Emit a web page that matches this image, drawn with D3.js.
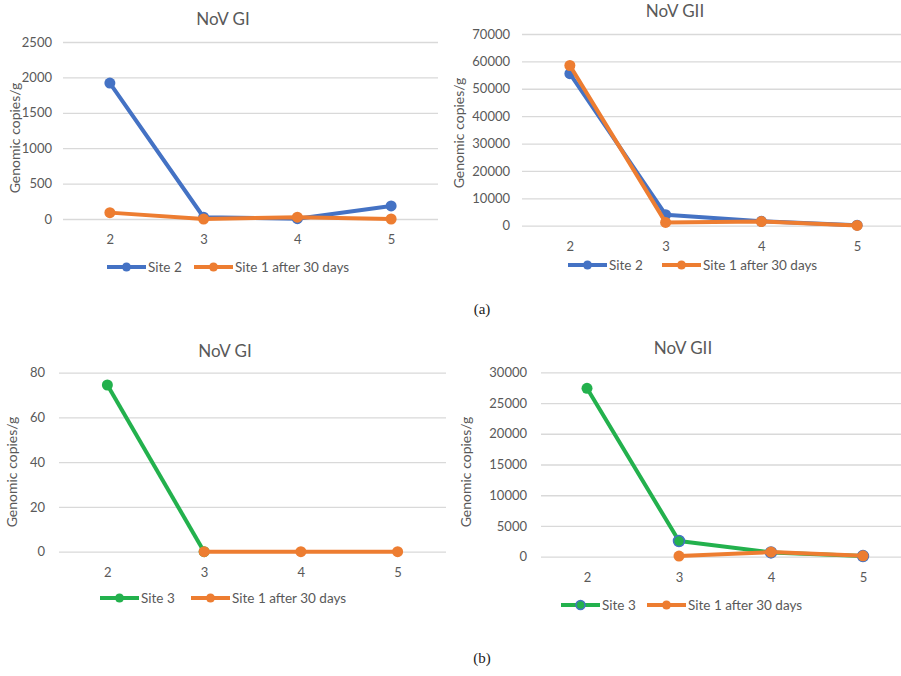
<!DOCTYPE html>
<html>
<head>
<meta charset="utf-8">
<script src="https://cdn.jsdelivr.net/npm/d3@7"></script>
<style>
  body { margin: 0; background: #fff; }
  svg { display: block; }
</style>
</head>
<body>
<div id="chart"></div>
<script>
// sampling days (x categories)
const days = ["2", "3", "4", "5"];

// (a) NoV GI
const giSite2 = [1920, 25, 5, 185];
const giSite1a = [90, 0, 25, 0];
// (a) NoV GII
const giiSite2 = [55500, 4000, 1600, 200];
const giiSite1a = [58500, 1200, 1500, 100];
// (b) NoV GI
const giSite3 = [74.5, 0, null, null];
const giSite1b = [null, 0, 0, 0];
// (b) NoV GII
const giiSite3 = [27400, 2550, 700, 100];
const giiSite1b = [null, 100, 750, 150];

// y tick labels
const giTicksA = [0, 500, 1000, 1500, 2000, 2500];
const giiTicksA = [0, 10000, 20000, 30000, 40000, 50000, 60000, 70000];
const giTicksB = [0, 20, 40, 60, 80];
const giiTicksB = [0, 5000, 10000, 15000, 20000, 25000, 30000];

const BLUE = "#4472C4";
const ORANGE = "#ED7D31";
const GREEN = "#23B14D";
const TEXT = "#595959";
const GRID = "#d9d9d9";
const FONT = "Lato, 'Open Sans', sans-serif";

const svg = d3.select("#chart")
    .append("svg")
    .attr("width", 901)
    .attr("height", 676);

// one Excel-like line panel
function drawPanel(p) {
    const g = svg.append("g");

    const x = d3.scalePoint()
        .domain(days)
        .range([p.x0, p.x1])
        .padding(0.5);

    const y = d3.scaleLinear()
        .domain([0, d3.max(p.ticks)])
        .range([p.y0, p.yTop]);

    // gridlines + y tick labels
    const leftAxis = d3.axisLeft(y)
        .tickValues(p.ticks)
        .tickFormat(d3.format("d"))
        .tickSizeInner(-(p.gridRight - p.x0))
        .tickSizeOuter(0)
        .tickPadding(p.x0 - p.tickRight);

    const yAxis = g.append("g")
        .attr("transform", `translate(${p.x0},0)`)
        .call(leftAxis);
    yAxis.select(".domain").remove();
    yAxis.selectAll("line").attr("stroke", GRID).attr("stroke-width", 1.3);
    yAxis.selectAll("text")
        .attr("fill", TEXT)
        .style("font-family", FONT)
        .style("font-size", "13px");

    // x tick labels
    const bottomAxis = d3.axisBottom(x)
        .tickSize(0)
        .tickPadding(p.xTickY - p.y0 - 4.5);
    const xAxis = g.append("g")
        .attr("transform", `translate(0,${p.y0})`)
        .call(bottomAxis);
    xAxis.select(".domain").remove();
    xAxis.selectAll("text")
        .attr("fill", TEXT)
        .style("font-family", FONT)
        .style("font-size", "13px");

    // title
    g.append("text")
        .attr("x", p.titleX)
        .attr("y", p.titleY)
        .attr("text-anchor", "middle")
        .attr("fill", TEXT)
        .style("font-family", FONT)
        .style("font-size", "17px")
        .text(p.title);

    // y axis label
    g.append("text")
        .attr("transform", `translate(${p.ylabX},${p.ylabY}) rotate(-90)`)
        .attr("text-anchor", "middle")
        .attr("dy", "0.35em")
        .attr("fill", TEXT)
        .style("font-family", FONT)
        .style("font-size", "14px")
        .text("Genomic copies/g");

    const line = d3.line()
        .defined(d => d.v != null)
        .x(d => x(d.day))
        .y(d => y(d.v));

    // series: first one drawn first, second on top
    p.series.forEach(s => {
        const pts = days.map((day, i) => ({ day: day, v: s.values[i], ring: s.ring ? s.ring[i] : null }));

        g.append("path")
            .datum(pts)
            .attr("fill", "none")
            .attr("stroke", s.color)
            .attr("stroke-width", 4)
            .attr("stroke-linejoin", "round")
            .attr("d", line);

        g.selectAll(null)
            .data(pts.filter(d => d.v != null))
            .enter()
            .append("circle")
            .attr("cx", d => x(d.day))
            .attr("cy", d => y(d.v))
            .attr("r", 5.5)
            .attr("fill", s.color)
            .attr("stroke", d => d.ring || "none")
            .attr("stroke-width", 1.5);
    });

    // legend
    p.series.forEach((s, i) => {
        const lx = p.legendX[i];
        const lg = g.append("g");
        lg.append("line")
            .attr("x1", lx)
            .attr("x2", lx + 39)
            .attr("y1", p.legendY)
            .attr("y2", p.legendY)
            .attr("stroke", s.color)
            .attr("stroke-width", 4);
        lg.append("circle")
            .attr("cx", lx + 19.5)
            .attr("cy", p.legendY)
            .attr("r", 4.5)
            .attr("fill", s.color)
            .attr("stroke", s.legendRing || "none")
            .attr("stroke-width", 1.5);
        lg.append("text")
            .attr("x", lx + 41)
            .attr("y", p.legendY)
            .attr("dy", "0.35em")
            .attr("fill", TEXT)
            .style("font-family", FONT)
            .style("font-size", "13.5px")
            .text(s.name);
    });
}

drawPanel({
    title: "NoV GI", titleX: 223, titleY: 25,
    x0: 63, x1: 438, gridRight: 438, yTop: 42, y0: 219,
    ticks: giTicksA, tickRight: 52, xTickY: 239,
    ylabX: 15, ylabY: 138,
    legendY: 267, legendX: [107, 194],
    series: [
        { name: "Site 2", values: giSite2, color: BLUE },
        { name: "Site 1 after 30 days", values: giSite1a, color: ORANGE }
    ]
});

drawPanel({
    title: "NoV GII", titleX: 675, titleY: 17,
    x0: 522, x1: 905, gridRight: 901, yTop: 34, y0: 225.7,
    ticks: giiTicksA, tickRight: 510, xTickY: 246,
    ylabX: 459, ylabY: 133,
    legendY: 265, legendX: [568, 662],
    series: [
        { name: "Site 2", values: giiSite2, color: BLUE },
        { name: "Site 1 after 30 days", values: giiSite1a, color: ORANGE }
    ]
});

drawPanel({
    title: "NoV GI", titleX: 225, titleY: 357,
    x0: 59, x1: 446, gridRight: 446, yTop: 372.7, y0: 551.7,
    ticks: giTicksB, tickRight: 45, xTickY: 572,
    ylabX: 12, ylabY: 472,
    legendY: 598, legendX: [100, 191],
    series: [
        { name: "Site 3", values: giSite3, color: GREEN },
        { name: "Site 1 after 30 days", values: giSite1b, color: ORANGE }
    ]
});

drawPanel({
    title: "NoV GII", titleX: 683, titleY: 354,
    x0: 541, x1: 909, gridRight: 901, yTop: 372.3, y0: 556.7,
    ticks: giiTicksB, tickRight: 527, xTickY: 577,
    ylabX: 466, ylabY: 472,
    legendY: 605, legendX: [561, 647],
    series: [
        { name: "Site 3", values: giiSite3, color: GREEN, ring: [null, BLUE, BLUE, BLUE], legendRing: BLUE },
        { name: "Site 1 after 30 days", values: giiSite1b, color: ORANGE }
    ]
});

// sub-figure captions
svg.append("text")
    .attr("x", 482).attr("y", 314)
    .attr("text-anchor", "middle")
    .attr("fill", "#222")
    .style("font-family", "'Liberation Serif', 'DejaVu Serif', serif")
    .style("font-size", "15px")
    .text("(a)");

svg.append("text")
    .attr("x", 482).attr("y", 663)
    .attr("text-anchor", "middle")
    .attr("fill", "#222")
    .style("font-family", "'Liberation Serif', 'DejaVu Serif', serif")
    .style("font-size", "15px")
    .text("(b)");
</script>
</body>
</html>
